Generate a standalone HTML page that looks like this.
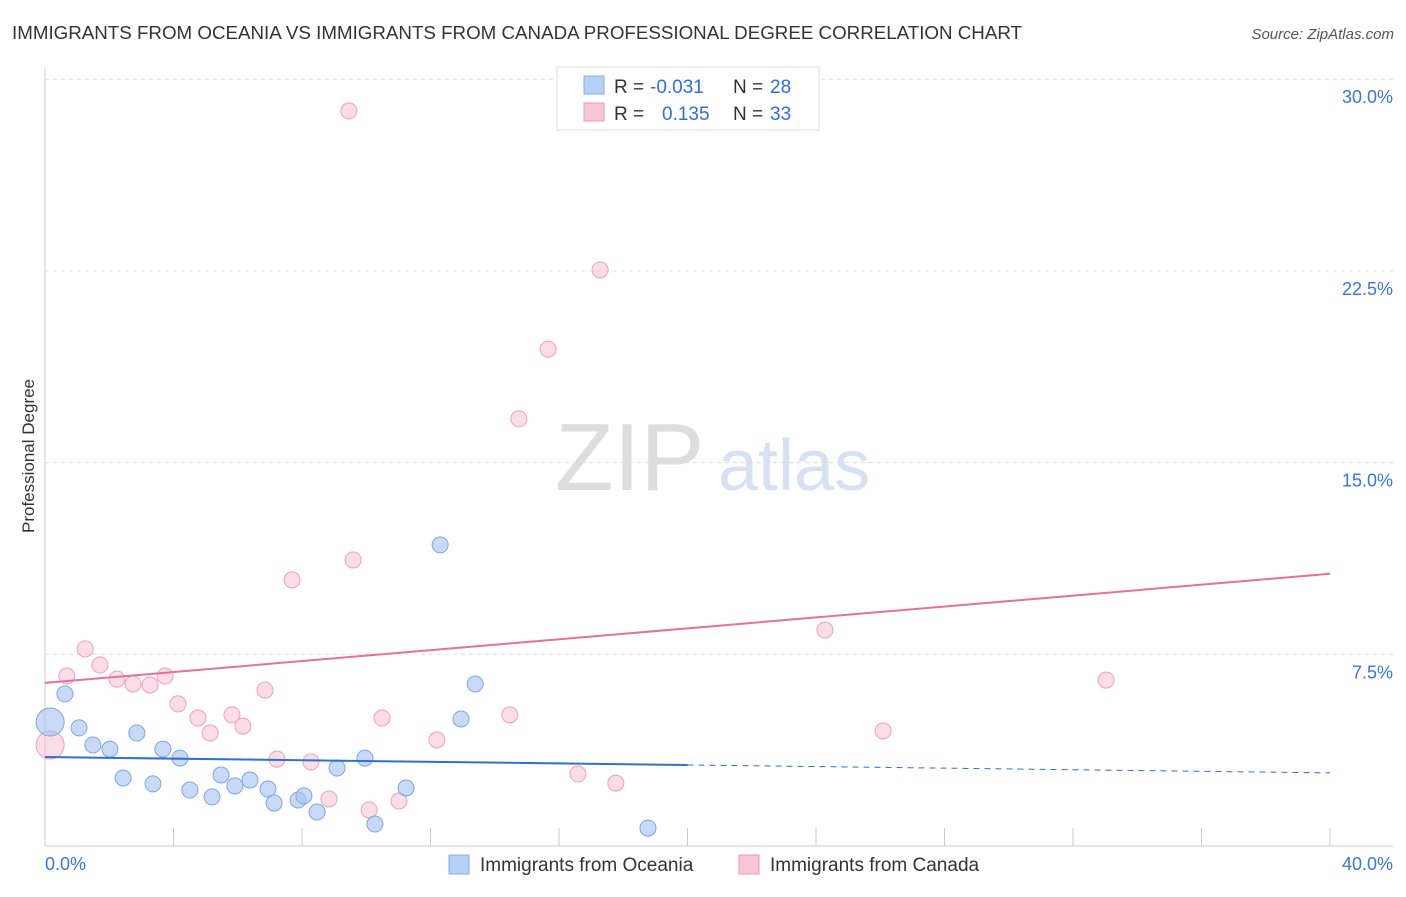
<!DOCTYPE html>
<html><head><meta charset="utf-8"><style>
body{margin:0;background:#fff;font-family:"Liberation Sans",sans-serif;}
svg text{font-family:"Liberation Sans",sans-serif;}
</style></head><body>
<svg width="1406" height="892" id="c">
<text x="12" y="39" font-size="18" fill="#333" textLength="1010" lengthAdjust="spacingAndGlyphs">IMMIGRANTS FROM OCEANIA VS IMMIGRANTS FROM CANADA PROFESSIONAL DEGREE CORRELATION CHART</text>
<text x="1394" y="39" font-size="15" fill="#555" text-anchor="end" font-style="italic">Source: ZipAtlas.com</text>
<text x="555" y="490" font-size="96" fill="#ddd" font-family="Liberation Serif">ZIP</text>
<text x="718" y="490" font-size="72" fill="#d6e2f4">atlas</text>
<text x="34" y="456" font-size="17" fill="#333" text-anchor="middle" transform="rotate(-90 34 456)">Professional Degree</text>
<g id="grid"></g><g id="marks"></g>
<g>
<rect x="557" y="67" width="262" height="63" fill="#fff" stroke="#ddd"/>
<rect x="584" y="76" width="20" height="18" fill="#b7d0f5" stroke="#88aee6"/>
<rect x="584" y="103" width="20" height="18" fill="#f9c6d6" stroke="#ee9ab6"/>
<text x="614" y="93" font-size="19" fill="#333">R =</text>
<text x="650" y="93" font-size="19" fill="#2f6fd6">-0.031</text>
<text x="733" y="93" font-size="19" fill="#333">N =</text>
<text x="770" y="93" font-size="19" fill="#2f6fd6">28</text>
<text x="614" y="120" font-size="19" fill="#333">R =</text>
<text x="662" y="120" font-size="19" fill="#2f6fd6">0.135</text>
<text x="733" y="120" font-size="19" fill="#333">N =</text>
<text x="770" y="120" font-size="19" fill="#2f6fd6">33</text>
</g>
<g>
<rect x="449" y="855" width="20" height="19" fill="#b7d0f5" stroke="#88aee6"/>
<text x="480" y="871" font-size="19" fill="#333">Immigrants from Oceania</text>
<rect x="739" y="855" width="20" height="19" fill="#f9c6d6" stroke="#ee9ab6"/>
<text x="770" y="871" font-size="19" fill="#333">Immigrants from Canada</text>
</g>
</svg>
<script>
const xTicks=[0,4,8,12,16,20,24,28,32,36,40];
const yTicks=[7.5,15,22.5,30];
const yTickLabels=["7.5%","15.0%","22.5%","30.0%"];
const blueX=[0.16,0.62,1.06,1.49,2.02,2.43,2.86,3.36,3.67,4.20,4.51,5.20,5.48,5.91,6.38,6.94,7.13,7.88,8.06,8.47,9.09,9.96,10.27,11.24,12.30,12.95,13.39,18.77];
const blueY=[4.85,5.95,4.62,3.95,3.79,2.66,4.42,2.43,3.79,3.44,2.19,1.92,2.78,2.35,2.58,2.23,1.68,1.80,1.96,1.33,3.05,3.44,0.86,2.27,11.78,4.97,6.34,0.70];
const pinkX=[0.16,0.68,1.25,1.71,2.24,2.74,3.27,3.74,4.14,4.76,5.14,5.82,6.16,6.85,7.22,7.69,8.28,8.84,9.46,9.59,10.09,10.49,11.02,12.20,14.47,14.75,15.66,16.59,17.28,17.77,24.28,26.09,33.03];
const pinkY=[3.95,6.65,7.71,7.08,6.53,6.34,6.30,6.65,5.56,5.01,4.42,5.13,4.69,6.10,3.40,10.41,3.29,1.84,28.76,11.19,1.41,5.01,1.76,4.15,5.13,16.71,19.44,2.82,22.54,2.46,8.45,4.50,6.49];
const blueTrend=[3.48,2.86];
const pinkTrend=[6.38,10.65];
const X=v=>45+v*32.125, Y=v=>846-v*25.56;
const NS="http://www.w3.org/2000/svg";
const grid=document.getElementById('grid'), marks=document.getElementById('marks');
function mk(p,tag,a){const e=document.createElementNS(NS,tag);for(const k in a)e.setAttribute(k,a[k]);p.appendChild(e);return e;}
let e=mk(grid,'line',{x1:45,y1:68,x2:45,y2:846,stroke:'#ccc'});


e=mk(grid,'line',{x1:45,y1:846,x2:1393,y2:846,stroke:'#ccc'});


yTicks.forEach((t,i)=>{
 e=mk(grid,'line',{x1:45,y1:Y(t),x2:1393,y2:Y(t),stroke:'#ddd','stroke-dasharray':'4,4'});
 
 
 e=mk(grid,'text',{x:1393,y:Y(t)+24,'font-size':18,fill:'#3a76d4','text-anchor':'end'});e.textContent=yTickLabels[i];
 
 
});
xTicks.forEach(t=>{
 e=mk(grid,'line',{x1:X(t),y1:828,x2:X(t),y2:846,stroke:'#ccc'});
 
 
});
e=mk(grid,'text',{x:45,y:870,'font-size':18,fill:'#3a76d4'});e.textContent='0.0%';


e=mk(grid,'text',{x:1393,y:870,'font-size':18,fill:'#3a76d4','text-anchor':'end'});e.textContent='40.0%';


function pts(xs,ys,fill,stroke,name){xs.forEach((x,i)=>{
 const r=i===0?14:8;
 e=mk(marks,'circle',{cx:X(x),cy:Y(ys[i]),r:r,fill:fill,stroke:stroke,'stroke-width':1});
 
 
});}
pts(pinkX,pinkY,'rgba(248,187,208,0.5)','#eea0bb','canada-point');
pts(blueX,blueY,'rgba(164,194,244,0.6)','#7fa6e0','oceania-point');
const bm=blueTrend[0]+(blueTrend[1]-blueTrend[0])*(20/40);
e=mk(marks,'line',{x1:X(0),y1:Y(blueTrend[0]),x2:X(20),y2:Y(bm),stroke:'#2f6fd6','stroke-width':2});


e=mk(marks,'line',{x1:X(20),y1:Y(bm),x2:X(40),y2:Y(blueTrend[1]),stroke:'#2f6fd6','stroke-width':1,'stroke-dasharray':'6,5'});


e=mk(marks,'line',{x1:X(0),y1:Y(pinkTrend[0]),x2:X(40),y2:Y(pinkTrend[1]),stroke:'#e8709a','stroke-width':2});


</script>
</body></html>
